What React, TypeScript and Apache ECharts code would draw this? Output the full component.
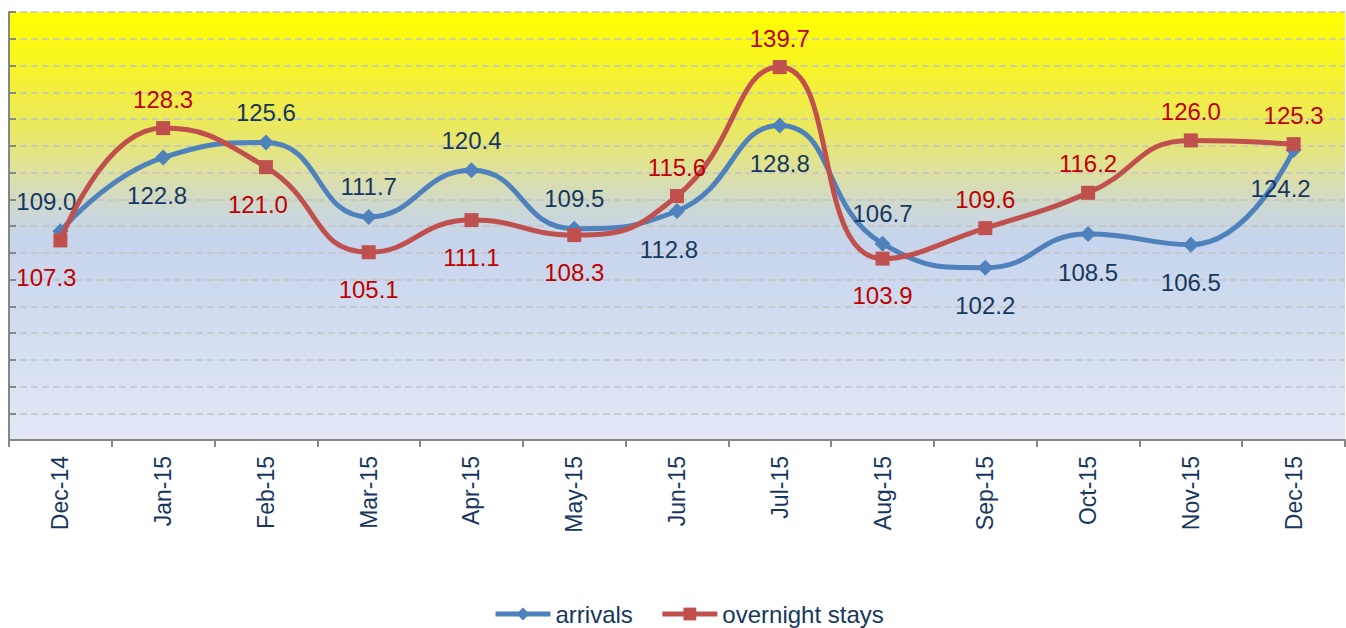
import React, { useEffect, useRef } from "react";
import * as echarts from "echarts";

const categories = ["Dec-14", "Jan-15", "Feb-15", "Mar-15", "Apr-15", "May-15", "Jun-15", "Jul-15", "Aug-15", "Sep-15", "Oct-15", "Nov-15", "Dec-15"];
const arrivals = [109.0, 122.8, 125.6, 111.7, 120.4, 109.5, 112.8, 128.8, 106.7, 102.2, 108.5, 106.5, 124.2];
const overnightStays = [107.3, 128.3, 121.0, 105.1, 111.1, 108.3, 115.6, 139.7, 103.9, 109.6, 116.2, 126.0, 125.3];

// label placement per point (style only)
const arrivalsLabelPos = ["top", "bottom", "top", "top", "top", "top", "bottom", "bottom", "top", "bottom", "bottom", "bottom", "bottom"];
const staysLabelPos = ["bottom", "top", "bottom", "bottom", "bottom", "bottom", "top", "top", "bottom", "top", "top", "top", "top"];
const arrivalsLabelDx = [-14, -6, 0, 0, 0, 0, -8, 0, 0, 0, 0, 0, -13];
const staysLabelDx = [-14, 0, -8, 0, 0, 0, 0, 0, 0, 0, 0, 0, 0];

const FONT = "'Liberation Sans', Arial, sans-serif";
const NAVY = "#17375e";
const BLUE = "#4f81bd";
const RED = "#c0504d";
const LABEL_RED = "#c00000";

function buildData(values: number[], pos: string[], dx: number[], color: string) {
  return values.map((v, i) => ({
    value: v,
    label: {
      show: true,
      position: pos[i],
      distance: pos[i] === "top" ? 10 : 18,
      offset: [dx[i], 0],
      color,
      fontSize: 24,
      fontFamily: FONT,
      formatter: (p: any) => Number(p.value).toFixed(1),
    },
  }));
}

export default function App() {
  const ref = useRef<HTMLDivElement>(null);
  useEffect(() => {
    document.body.style.margin = "0";
    const chart = echarts.init(ref.current!, null, { renderer: "svg" });
    chart.setOption({
      animation: false,
      backgroundColor: "#ffffff",
      grid: {
        left: 9,
        right: 1,
        top: 12,
        bottom: 188,
        show: true,
        borderWidth: 0,
        backgroundColor: new echarts.graphic.LinearGradient(0, 0, 0, 1, [
          { offset: 0, color: "#ffff00" },
          { offset: 0.1, color: "#f9f61c" },
          { offset: 0.28, color: "#e9e864" },
          { offset: 0.38, color: "#dde0a4" },
          { offset: 0.46, color: "#ccd8d4" },
          { offset: 0.53, color: "#c6d4ec" },
          { offset: 1, color: "#e2e8f4" },
        ]),
      },
      legend: {
        bottom: -3,
        left: 488,
        itemWidth: 55,
        itemHeight: 16,
        itemGap: 27,
        lineStyle: { width: 5 },
        textStyle: { color: NAVY, fontSize: 24, fontFamily: FONT },
        data: ["arrivals", "overnight stays"],
      },
      xAxis: {
        type: "category",
        data: categories,
        boundaryGap: true,
        axisLine: { show: true, lineStyle: { color: "#868686", width: 2 } },
        axisTick: { show: true, length: 7, lineStyle: { color: "#868686", width: 2 } },
        axisLabel: { rotate: 90, margin: 16, color: NAVY, fontSize: 23, fontFamily: FONT },
        splitLine: { show: false },
      },
      yAxis: {
        type: "value",
        min: 70,
        max: 150,
        interval: 5,
        axisLine: { show: true, lineStyle: { color: "#868686", width: 2 } },
        axisTick: { show: true, inside: true, length: 7, lineStyle: { color: "#868686", width: 2 } },
        axisLabel: { show: false },
        splitLine: { show: true, lineStyle: { color: "#c3c3c3", width: 1.5, type: [7, 4] } },
      },
      series: [
        {
          name: "arrivals",
          type: "line",
          smooth: 0.5,
          symbol: "diamond",
          symbolSize: 16,
          itemStyle: { color: BLUE },
          lineStyle: { color: BLUE, width: 5 },
          data: buildData(arrivals, arrivalsLabelPos, arrivalsLabelDx, NAVY),
          z: 2,
        },
        {
          name: "overnight stays",
          type: "line",
          smooth: 0.5,
          symbol: "rect",
          symbolSize: 14,
          itemStyle: { color: RED },
          lineStyle: { color: RED, width: 5 },
          data: buildData(overnightStays, staysLabelPos, staysLabelDx, LABEL_RED),
          z: 3,
        },
      ],
    });
    return () => chart.dispose();
  }, []);
  return <div ref={ref} style={{ width: 1346, height: 628 }} />;
}
